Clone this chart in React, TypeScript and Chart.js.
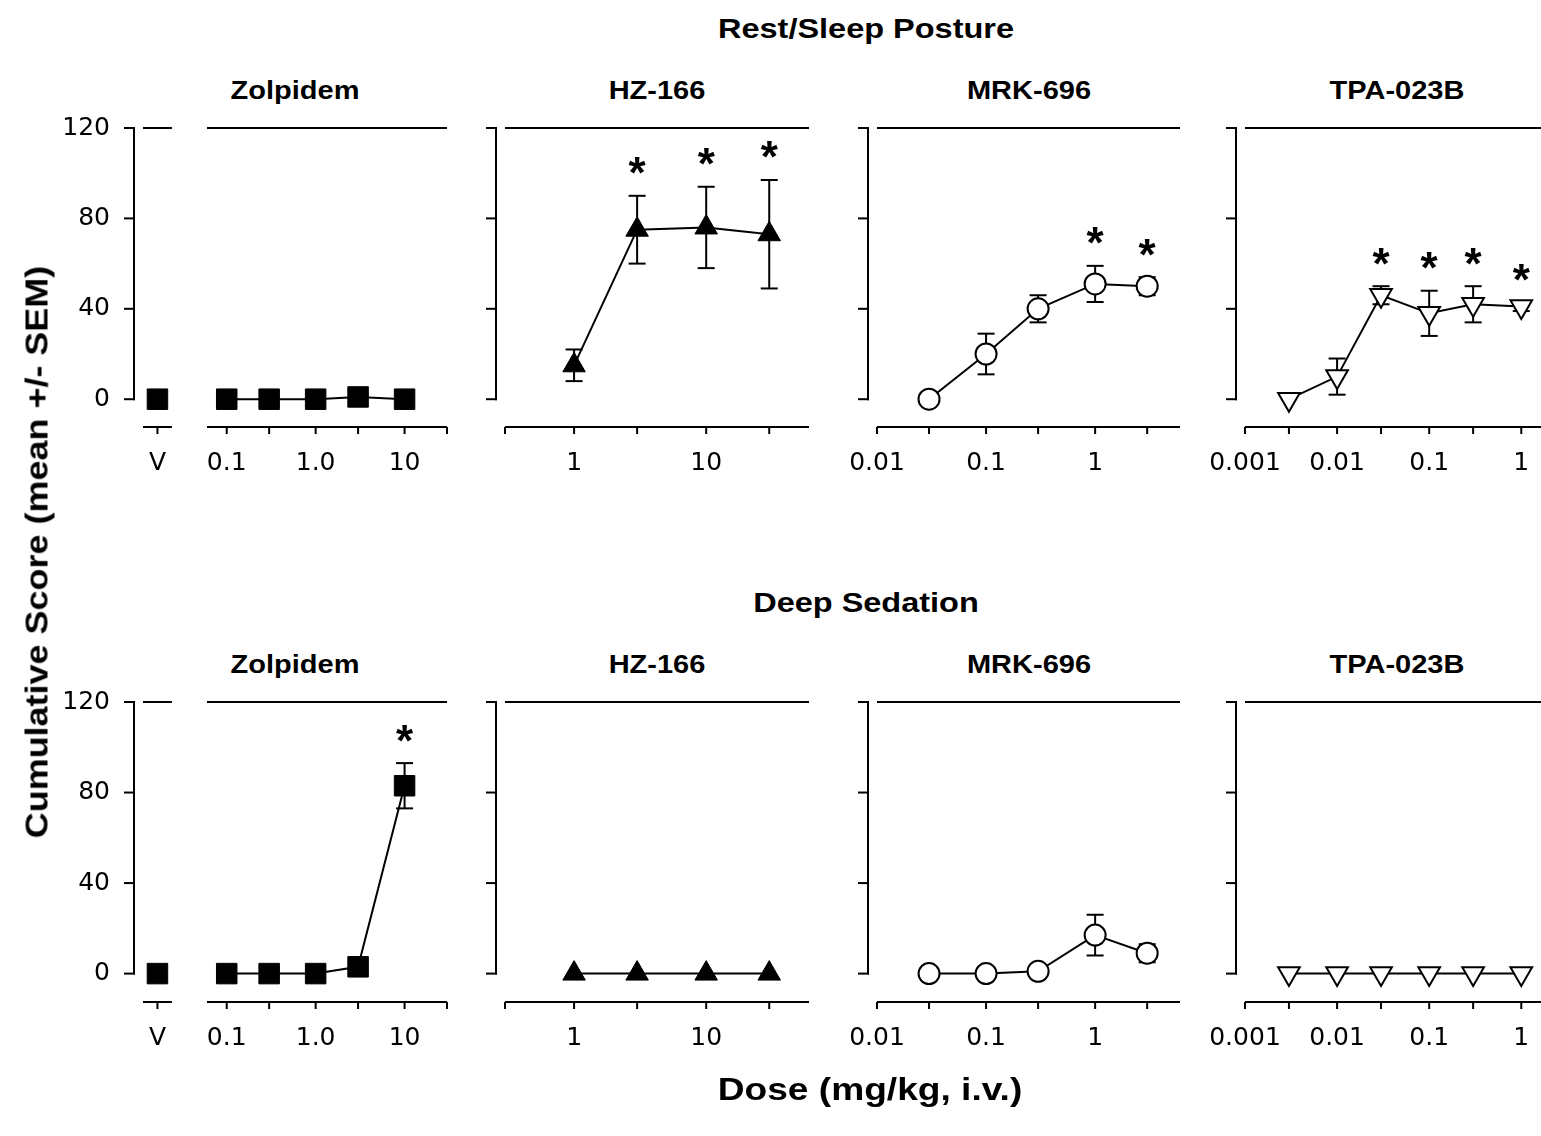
import React, { useEffect, useRef } from "react";
import { Chart, registerables } from "chart.js";
Chart.register(...registerables);

// ---------- text ----------
const superTitles = ["Rest/Sleep Posture", "Deep Sedation"];
const drugNames = ["Zolpidem", "HZ-166", "MRK-696", "TPA-023B"];
const yAxisTitle = "Cumulative Score (mean +/- SEM)";
const xAxisTitle = "Dose (mg/kg, i.v.)";

// ---------- axes ----------
const yTickValues = [0, 40, 80, 120];
const vehicleLabels = ["V"];

const zolDoses = [0.1, 0.3, 1, 3, 10];
const zolTicks = [0.1, 0.3, 1, 3, 10, 30];
const zolTickLabels = ["0.1", "", "1.0", "", "10", ""];

const hzDoses = [1, 3, 10, 30];
const hzTicks = [0.3, 1, 3, 10, 30];
const hzTickLabels = ["", "1", "", "10", ""];

const mrkDoses = [0.03, 0.1, 0.3, 1, 3];
const mrkTicks = [0.01, 0.03, 0.1, 0.3, 1, 3];
const mrkTickLabels = ["0.01", "", "0.1", "", "1", ""];

const tpaDoses = [0.003, 0.01, 0.03, 0.1, 0.3, 1];
const tpaTicks = [0.001, 0.003, 0.01, 0.03, 0.1, 0.3, 1];
const tpaTickLabels = ["0.001", "", "0.01", "", "0.1", "", "1"];

// ---------- Rest/Sleep Posture ----------
const restZolVehMean = [0];
const restZolMean = [0, 0, 0, 1, 0];
const restZolSem = [0, 0, 0, 0, 0];
const restZolSig = [false, false, false, false, false];

const restHzMean = [15, 75, 76, 73];
const restHzSem = [7, 15, 18, 24];
const restHzSig = [false, true, true, true];

const restMrkMean = [0, 20, 40, 51, 50];
const restMrkSem = [0, 9, 6, 8, 4];
const restMrkSig = [false, false, false, true, true];

const restTpaMean = [0, 10, 46, 38, 42, 41];
const restTpaSem = [0, 8, 4, 10, 8, 2];
const restTpaSig = [false, false, true, true, true, true];

// ---------- Deep Sedation ----------
const deepZolVehMean = [0];
const deepZolMean = [0, 0, 0, 3, 83];
const deepZolSem = [0, 0, 0, 0, 10];
const deepZolSig = [false, false, false, false, true];

const deepHzMean = [0, 0, 0, 0];
const deepHzSem = [0, 0, 0, 0];
const deepHzSig = [false, false, false, false];

const deepMrkMean = [0, 0, 1, 17, 9];
const deepMrkSem = [0, 0, 0, 9, 4];
const deepMrkSig = [false, false, false, false, false];

const deepTpaMean = [0, 0, 0, 0, 0, 0];
const deepTpaSem = [0, 0, 0, 0, 0, 0];
const deepTpaSig = [false, false, false, false, false, false];

// ---------- layout ----------
const PAD_L = 120;
const PAD_R = 30;
const PAD_T = 60;
const PAD_B = 70;
const TEXT_STRETCH = 1.16;
const FONT = '"Liberation Sans", Arial, Helvetica, sans-serif';
const TICK_FONT = '"DejaVu Sans", "Liberation Sans", sans-serif';

type Marker = {
  style: "rect" | "triangle" | "circle";
  radius: number;
  rotation: number;
  fill: string;
  borderWidth: number;
};

const squareMarker: Marker = { style: "rect", radius: 14.5, rotation: 0, fill: "#000", borderWidth: 1 };
const triUpMarker: Marker = { style: "triangle", radius: 13, rotation: 0, fill: "#000", borderWidth: 1 };
const circleMarker: Marker = { style: "circle", radius: 10.5, rotation: 0, fill: "#fff", borderWidth: 2 };
const triDownMarker: Marker = { style: "triangle", radius: 12.5, rotation: 180, fill: "#fff", borderWidth: 2 };

type PanelSpec = {
  key: string;
  l: number;
  r: number;
  t: number;
  b: number;
  yMin: number;
  xType: "logarithmic" | "category";
  xMin?: number;
  xMax?: number;
  xTicks?: number[];
  xTickLabels?: string[];
  categories?: string[];
  doses: (number | string)[];
  mean: number[];
  sem: number[];
  sig: boolean[];
  marker: Marker;
  yLabels: boolean;
  yAxis: boolean;
};

const ROWS = [
  { t: 128, b: 427, yMin: -12.3 },
  { t: 702, b: 1002, yMin: -12.55 },
];

function rowPanels(row: number): PanelSpec[] {
  const { t, b, yMin } = ROWS[row];
  const top = row === 0;
  return [
    {
      key: `v${row}`, l: 143, r: 172, t, b, yMin, xType: "category",
      categories: vehicleLabels, doses: vehicleLabels,
      mean: top ? restZolVehMean : deepZolVehMean, sem: [0], sig: [false],
      marker: squareMarker, yLabels: true, yAxis: true,
    },
    {
      key: `z${row}`, l: 207, r: 447, t, b, yMin, xType: "logarithmic",
      xMin: 0.06, xMax: 30, xTicks: zolTicks, xTickLabels: zolTickLabels,
      doses: zolDoses,
      mean: top ? restZolMean : deepZolMean,
      sem: top ? restZolSem : deepZolSem,
      sig: top ? restZolSig : deepZolSig,
      marker: squareMarker, yLabels: false, yAxis: false,
    },
    {
      key: `h${row}`, l: 505, r: 809, t, b, yMin, xType: "logarithmic",
      xMin: 0.3, xMax: 60, xTicks: hzTicks, xTickLabels: hzTickLabels,
      doses: hzDoses,
      mean: top ? restHzMean : deepHzMean,
      sem: top ? restHzSem : deepHzSem,
      sig: top ? restHzSig : deepHzSig,
      marker: triUpMarker, yLabels: false, yAxis: true,
    },
    {
      key: `m${row}`, l: 877, r: 1180, t, b, yMin, xType: "logarithmic",
      xMin: 0.01, xMax: 6, xTicks: mrkTicks, xTickLabels: mrkTickLabels,
      doses: mrkDoses,
      mean: top ? restMrkMean : deepMrkMean,
      sem: top ? restMrkSem : deepMrkSem,
      sig: top ? restMrkSig : deepMrkSig,
      marker: circleMarker, yLabels: false, yAxis: true,
    },
    {
      key: `t${row}`, l: 1245, r: 1549, t, b, yMin, xType: "logarithmic",
      xMin: 0.001, xMax: 2, xTicks: tpaTicks, xTickLabels: tpaTickLabels,
      doses: tpaDoses,
      mean: top ? restTpaMean : deepTpaMean,
      sem: top ? restTpaSem : deepTpaSem,
      sig: top ? restTpaSig : deepTpaSig,
      marker: triDownMarker, yLabels: false, yAxis: true,
    },
  ];
}

function decorPlugin(s: PanelSpec) {
  const line = (ctx: CanvasRenderingContext2D, x1: number, y1: number, x2: number, y2: number) => {
    ctx.beginPath();
    ctx.moveTo(x1, y1);
    ctx.lineTo(x2, y2);
    ctx.stroke();
  };
  return {
    id: "decor" + s.key,
    beforeDatasetsDraw(chart: any) {
      const { ctx, scales } = chart;
      const x = scales.x;
      const y = scales.y;
      ctx.save();
      ctx.strokeStyle = "#000";
      ctx.lineWidth = 2;
      s.doses.forEach((d, i) => {
        const e = s.sem[i];
        if (!e) return;
        const px = s.xType === "category" ? x.getPixelForValue(i) : x.getPixelForValue(d);
        const hi = y.getPixelForValue(s.mean[i] + e);
        const lo = y.getPixelForValue(s.mean[i] - e);
        line(ctx, px, hi, px, lo);
        line(ctx, px - 8.5, hi, px + 8.5, hi);
        line(ctx, px - 8.5, lo, px + 8.5, lo);
      });
      ctx.restore();
    },
    afterDatasetsDraw(chart: any) {
      const { ctx, chartArea: a, scales } = chart;
      const x = scales.x;
      const y = scales.y;
      ctx.save();
      ctx.strokeStyle = "#000";
      ctx.lineWidth = 2;
      ctx.lineCap = "butt";
      // top reference line at 120
      const yTop = y.getPixelForValue(120);
      line(ctx, a.left, yTop, a.right, yTop);
      // offset x axis
      line(ctx, a.left, a.bottom, a.right, a.bottom);
      x.ticks.forEach((_t: any, i: number) => {
        const px = x.getPixelForTick(i);
        line(ctx, px, a.bottom, px, a.bottom + 7);
      });
      // offset y axis
      if (s.yAxis) {
        const ax = a.left - 9;
        const y0 = y.getPixelForValue(0);
        line(ctx, ax, y0 + 1, ax, yTop - 1);
        yTickValues.forEach((v) => {
          const py = y.getPixelForValue(v);
          line(ctx, ax - 10, py, ax + 1, py);
        });
      }
      // significance asterisks
      ctx.fillStyle = "#000";
      ctx.font = `bold 44px ${FONT}`;
      ctx.textAlign = "center";
      ctx.textBaseline = "alphabetic";
      const m = ctx.measureText("*");
      const asc = m.actualBoundingBoxAscent;
      const desc = m.actualBoundingBoxDescent;
      s.doses.forEach((d, i) => {
        if (!s.sig[i]) return;
        const px = s.xType === "category" ? x.getPixelForValue(i) : x.getPixelForValue(d);
        const top = y.getPixelForValue(s.mean[i] + s.sem[i]);
        const cy = top - 30;
        ctx.fillText("*", px, cy + (asc - desc) / 2);
      });
      ctx.restore();
    },
  };
}

function Panel({ s }: { s: PanelSpec }) {
  const ref = useRef<HTMLCanvasElement>(null);
  const W = s.r - s.l + PAD_L + PAD_R;
  const H = s.b - s.t + PAD_T + PAD_B;
  useEffect(() => {
    const tickFont = { family: TICK_FONT, size: 25 };
    const xScale: any =
      s.xType === "category"
        ? {
            type: "category",
            labels: s.categories,
            offset: true,
            afterFit: (sc: any) => { sc.height = PAD_B; },
            grid: { display: false, drawTicks: false },
            border: { display: false },
            ticks: { font: tickFont, color: "#000", padding: 21, maxRotation: 0, minRotation: 0 },
          }
        : {
            type: "logarithmic",
            min: s.xMin,
            max: s.xMax,
            bounds: "data",
            afterBuildTicks: (sc: any) => {
              sc.ticks = (s.xTicks || []).map((v) => ({ value: v }));
            },
            afterFit: (sc: any) => { sc.height = PAD_B; },
            grid: { display: false, drawTicks: false },
            border: { display: false },
            ticks: {
              font: tickFont,
              color: "#000",
              padding: 21,
              autoSkip: false,
              maxRotation: 0,
              minRotation: 0,
              callback: (v: number) => {
                const idx = (s.xTicks || []).findIndex((tv) => Math.abs(tv - v) < tv * 1e-6);
                return idx >= 0 ? (s.xTickLabels || [])[idx] : "";
              },
            },
          };
    const chart = new Chart(ref.current as HTMLCanvasElement, {
      type: "line",
      data: {
        labels: s.categories,
        datasets: [
          {
            data: s.doses.map((d, i) => ({ x: d, y: s.mean[i] })) as any,
            borderColor: "#000",
            borderWidth: 2,
            tension: 0,
            fill: false,
            clip: false as any,
            pointStyle: s.marker.style,
            pointRadius: s.marker.radius,
            pointRotation: s.marker.rotation,
            pointBackgroundColor: s.marker.fill,
            pointBorderColor: "#000",
            pointBorderWidth: s.marker.borderWidth,
            pointHoverRadius: s.marker.radius,
          },
        ],
      },
      options: {
        responsive: false,
        maintainAspectRatio: false,
        animation: false,
        events: [],
        layout: { padding: { left: 0, top: PAD_T, right: PAD_R, bottom: 0 } },
        plugins: { legend: { display: false }, tooltip: { enabled: false }, title: { display: false } },
        scales: {
          x: xScale,
          y: {
            type: "linear",
            min: s.yMin,
            max: 120,
            bounds: "data",
            afterBuildTicks: (sc: any) => {
              sc.ticks = yTickValues.map((v) => ({ value: v }));
            },
            afterFit: (sc: any) => { sc.width = PAD_L; },
            grid: { display: false, drawTicks: false },
            border: { display: false },
            ticks: { display: s.yLabels, font: tickFont, color: "#000", padding: 33 },
          },
        } as any,
      },
      plugins: [decorPlugin(s)],
    });
    return () => chart.destroy();
  }, []);
  return (
    <canvas
      ref={ref}
      width={W}
      height={H}
      style={{ position: "absolute", left: s.l - PAD_L, top: s.t - PAD_T, width: W, height: H }}
    />
  );
}

function Label({ text, cx, baseline, size }: { text: string; cx: number; baseline: number; size: number }) {
  return (
    <div
      style={{
        position: "absolute",
        left: cx,
        top: baseline - 0.8465 * size,
        fontFamily: FONT,
        fontWeight: "bold",
        fontSize: size,
        lineHeight: `${size}px`,
        whiteSpace: "nowrap",
        color: "#000",
        transformOrigin: "50% 50%",
        transform: `translateX(-50%) scaleX(${TEXT_STRETCH})`,
      }}
    >
      {text}
    </div>
  );
}

const drugCenters = [295, 657, 1028.5, 1397];
const rowTitleBaselines = [38.3, 612.3];
const drugTitleBaselines = [99.3, 673.3];

export default function App() {
  const panels = [...rowPanels(0), ...rowPanels(1)];
  return (
    <div
      style={{
        position: "absolute",
        left: 0,
        top: 0,
        width: 1541,
        height: 1136,
        overflow: "hidden",
        background: "#fff",
      }}
    >
      {superTitles.map((t, i) => (
        <Label key={"st" + i} text={t} cx={866} baseline={rowTitleBaselines[i]} size={28} />
      ))}
      {[0, 1].map((row) =>
        drugNames.map((n, i) => (
          <Label key={`dn${row}${i}`} text={n} cx={drugCenters[i]} baseline={drugTitleBaselines[row]} size={25} />
        ))
      )}
      {panels.map((p) => (
        <Panel key={p.key} s={p} />
      ))}
      <Label text={xAxisTitle} cx={870} baseline={1100} size={32} />
      <div
        style={{
          position: "absolute",
          left: 37,
          top: 552,
          fontFamily: FONT,
          fontWeight: "bold",
          fontSize: 31,
          lineHeight: "31px",
          whiteSpace: "nowrap",
          color: "#000",
          transformOrigin: "50% 50%",
          transform: `translate(-50%, -50%) rotate(-90deg) scaleX(${TEXT_STRETCH})`,
        }}
      >
        {yAxisTitle}
      </div>
    </div>
  );
}
